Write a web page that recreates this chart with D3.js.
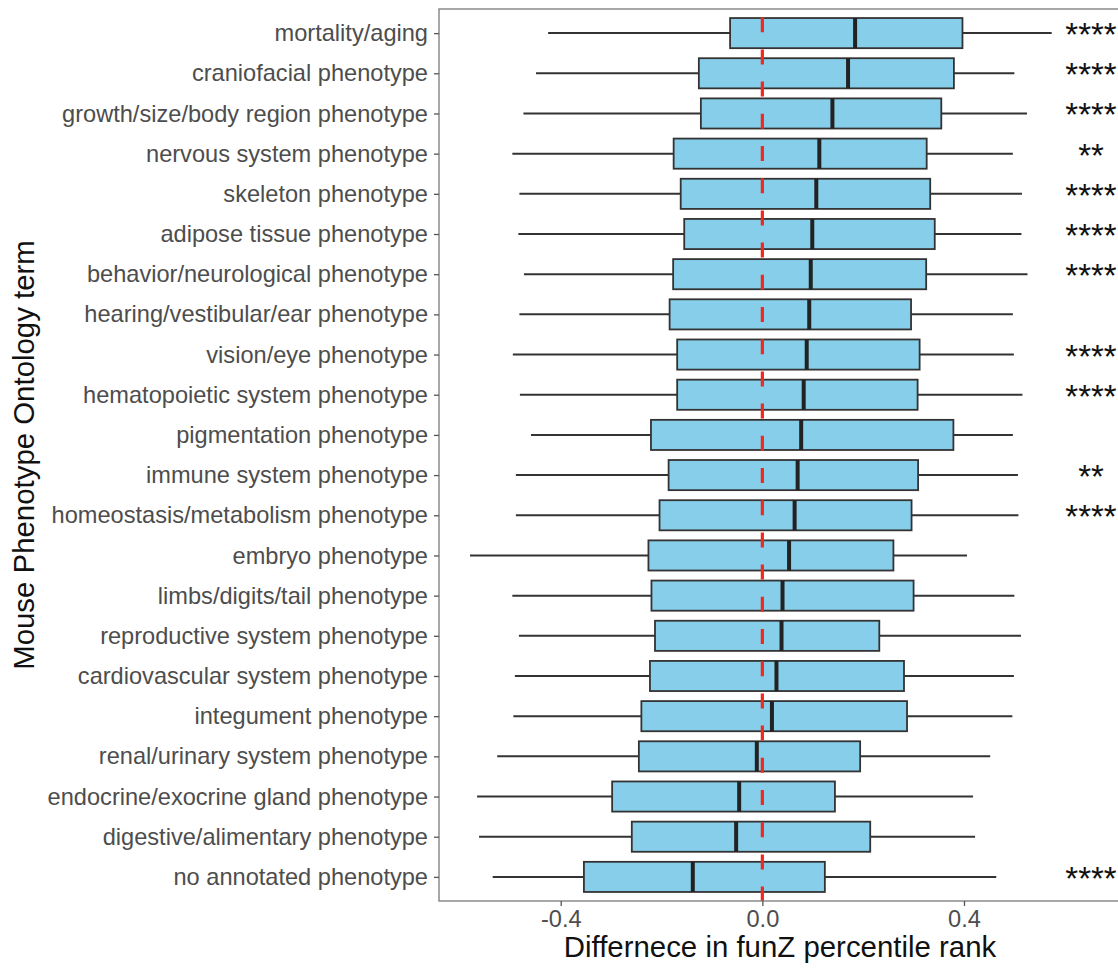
<!DOCTYPE html>
<html>
<head>
<meta charset="utf-8">
<script src="https://cdn.jsdelivr.net/npm/d3@7"></script>
<style>
  html, body { margin: 0; padding: 0; background: #fff; }
  svg { display: block; }
  text { font-family: "Liberation Sans", Arial, Helvetica, sans-serif; }
</style>
</head>
<body>
<svg id="chart" width="1118" height="968"></svg>
<script>
// Mouse Phenotype Ontology terms, top to bottom
const categories = [
  "mortality/aging",
  "craniofacial phenotype",
  "growth/size/body region phenotype",
  "nervous system phenotype",
  "skeleton phenotype",
  "adipose tissue phenotype",
  "behavior/neurological phenotype",
  "hearing/vestibular/ear phenotype",
  "vision/eye phenotype",
  "hematopoietic system phenotype",
  "pigmentation phenotype",
  "immune system phenotype",
  "homeostasis/metabolism phenotype",
  "embryo phenotype",
  "limbs/digits/tail phenotype",
  "reproductive system phenotype",
  "cardiovascular system phenotype",
  "integument phenotype",
  "renal/urinary system phenotype",
  "endocrine/exocrine gland phenotype",
  "digestive/alimentary phenotype",
  "no annotated phenotype"
];

// Box plot statistics of the difference in funZ percentile rank
const whiskerLow  = [-0.425, -0.449, -0.474, -0.496, -0.482, -0.484, -0.473, -0.482, -0.495, -0.481, -0.459,
                     -0.489, -0.489, -0.580, -0.496, -0.483, -0.491, -0.494, -0.526, -0.566, -0.562, -0.535];
const lowerQuartile = [-0.064, -0.126, -0.122, -0.176, -0.162, -0.155, -0.177, -0.184, -0.169, -0.169, -0.221,
                       -0.186, -0.204, -0.226, -0.220, -0.213, -0.223, -0.240, -0.245, -0.298, -0.259, -0.354];
const medianValue = [0.184, 0.170, 0.139, 0.113, 0.107, 0.099, 0.096, 0.093, 0.088, 0.082, 0.077,
                     0.070, 0.064, 0.053, 0.040, 0.038, 0.028, 0.019, -0.011, -0.046, -0.052, -0.138];
const upperQuartile = [0.397, 0.380, 0.355, 0.326, 0.333, 0.342, 0.325, 0.295, 0.312, 0.308, 0.379,
                       0.309, 0.296, 0.260, 0.300, 0.232, 0.281, 0.287, 0.194, 0.144, 0.214, 0.124];
const whiskerHigh = [0.574, 0.500, 0.525, 0.497, 0.515, 0.514, 0.526, 0.497, 0.499, 0.516, 0.497,
                     0.507, 0.508, 0.406, 0.500, 0.513, 0.499, 0.496, 0.452, 0.418, 0.422, 0.464];

// Significance stars per term
const signif = ["****", "****", "****", "**", "****", "****", "****", "", "****", "****", "",
                "**", "****", "", "", "", "", "", "", "", "", "****"];
const signifX = 0.652;

// Axis ticks
const xTicks = [-0.4, 0.0, 0.4];
const xTickLabels = ["-0.4", "0.0", "0.4"];
const refValue = 0;

const svg = d3.select("#chart");

const panel = { left: 439, right: 1121, top: 9, bottom: 901 };

const x = d3.scaleLinear().domain([-0.6415, 0.7115]).range([panel.left, panel.right]);
const y = d3.scalePoint().domain(categories).range([panel.top, panel.bottom]).padding(0.6);
const boxH = y.step() * 0.75;

const rows = categories.map((c, i) => ({
  cat: c, lo: whiskerLow[i], q1: lowerQuartile[i], med: medianValue[i],
  q3: upperQuartile[i], hi: whiskerHigh[i], sig: signif[i]
}));

const ink = "#333333";

// whiskers
const g = svg.append("g");
g.selectAll("line.wl").data(rows).join("line")
  .attr("x1", d => x(d.lo)).attr("x2", d => x(d.q1))
  .attr("y1", d => y(d.cat)).attr("y2", d => y(d.cat))
  .attr("stroke", ink).attr("stroke-width", 2);
g.selectAll("line.wh").data(rows).join("line")
  .attr("x1", d => x(d.q3)).attr("x2", d => x(d.hi))
  .attr("y1", d => y(d.cat)).attr("y2", d => y(d.cat))
  .attr("stroke", ink).attr("stroke-width", 2);

// boxes
g.selectAll("rect.box").data(rows).join("rect")
  .attr("x", d => x(d.q1)).attr("width", d => x(d.q3) - x(d.q1))
  .attr("y", d => y(d.cat) - boxH / 2).attr("height", boxH)
  .attr("fill", "#87ceeb").attr("stroke", ink).attr("stroke-width", 1.8);

// medians
g.selectAll("line.med").data(rows).join("line")
  .attr("x1", d => x(d.med)).attr("x2", d => x(d.med))
  .attr("y1", d => y(d.cat) - boxH / 2).attr("y2", d => y(d.cat) + boxH / 2)
  .attr("stroke", "#222").attr("stroke-width", 4);

// reference line at zero
svg.append("line")
  .attr("x1", x(refValue)).attr("x2", x(refValue))
  .attr("y1", panel.top).attr("y2", panel.bottom)
  .attr("stroke", "#f2281c").attr("stroke-width", 3.2)
  .attr("stroke-dasharray", "15 17.2").attr("stroke-dashoffset", 24);

// significance stars
svg.append("g").selectAll("text").data(rows.filter(d => d.sig)).join("text")
  .attr("x", x(signifX)).attr("y", d => y(d.cat) + 13)
  .attr("text-anchor", "middle")
  .attr("font-size", 33).attr("fill", "#111")
  .text(d => d.sig);

// panel border
svg.append("rect")
  .attr("x", panel.left).attr("y", panel.top)
  .attr("width", panel.right - panel.left).attr("height", panel.bottom - panel.top)
  .attr("fill", "none").attr("stroke", "#7a7a7a").attr("stroke-width", 1.3);

// y axis
const yAxis = svg.append("g").attr("transform", `translate(${panel.left},0)`)
  .call(d3.axisLeft(y).tickSize(5).tickPadding(6));
yAxis.select(".domain").remove();
yAxis.selectAll(".tick line").attr("stroke", "#555").attr("stroke-width", 1.3);
yAxis.selectAll(".tick text").attr("font-size", 23.6).attr("fill", "#4d4d4d")
  .attr("font-family", "'Liberation Sans', Arial, sans-serif");

// x axis
const xAxis = svg.append("g").attr("transform", `translate(0,${panel.bottom})`)
  .call(d3.axisBottom(x).tickValues(xTicks).tickFormat((d, i) => xTickLabels[i])
    .tickSize(5).tickPadding(4));
xAxis.select(".domain").remove();
xAxis.selectAll(".tick line").attr("stroke", "#555").attr("stroke-width", 1.3);
xAxis.selectAll(".tick text").attr("font-size", 23.6).attr("fill", "#4d4d4d")
  .attr("font-family", "'Liberation Sans', Arial, sans-serif");

// axis titles
svg.append("text")
  .attr("x", (panel.left + panel.right) / 2).attr("y", 957)
  .attr("text-anchor", "middle").attr("font-size", 29.4).attr("fill", "#111")
  .text("Differnece in funZ percentile rank");

svg.append("text")
  .attr("transform", `translate(34,${(panel.top + panel.bottom) / 2}) rotate(-90)`)
  .attr("text-anchor", "middle").attr("font-size", 29.4).attr("fill", "#111")
  .text("Mouse Phenotype Ontology term");
</script>
</body>
</html>
